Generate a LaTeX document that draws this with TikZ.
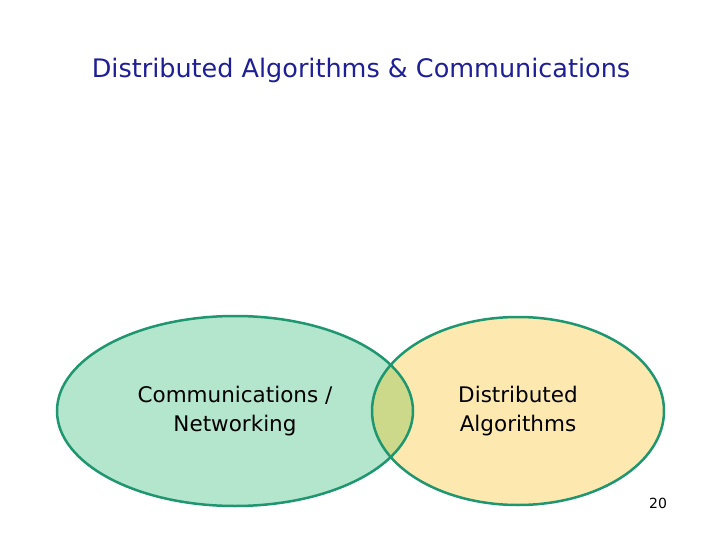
\documentclass[tikz,border=0pt]{standalone}
\usepackage{fontspec}
\setmainfont{DejaVu Sans}
\begin{document}
\begin{tikzpicture}[x=1pt,y=-1pt,
  lbl/.style={align=center,font=\fontsize{21.5}{29}\selectfont,text=black}]
\useasboundingbox (0,0) rectangle (720,540);
\definecolor{bord}{HTML}{1E9670}
\definecolor{lfill}{HTML}{B3E6CC}
\definecolor{rfill}{HTML}{FDE9B0}
\definecolor{ofill}{HTML}{CCD98A}
\node[font=\fontsize{25.5}{30}\selectfont,text={rgb,255:red,30;green,30;blue,150}] (title) at (361,70) {Distributed Algorithms \& Communications};
\fill[lfill] (235,411) ellipse [x radius=178,y radius=95];
\fill[rfill] (518,411) ellipse [x radius=146,y radius=94];
\begin{scope}
\clip (518,411) ellipse [x radius=146,y radius=94];
\fill[ofill] (235,411) ellipse [x radius=178,y radius=95];
\end{scope}
\draw[bord,line width=2.5pt] (235,411) ellipse [x radius=178,y radius=95];
\draw[bord,line width=2.5pt] (518,411) ellipse [x radius=146,y radius=94];
\node[lbl] (comm) at (235,411) {Communications /\\Networking};
\node[lbl] (dist) at (518,411) {Distributed\\Algorithms};
\node[font=\fontsize{14}{16}\selectfont] (pg) at (658,503) {20};
\end{tikzpicture}
\end{document}
